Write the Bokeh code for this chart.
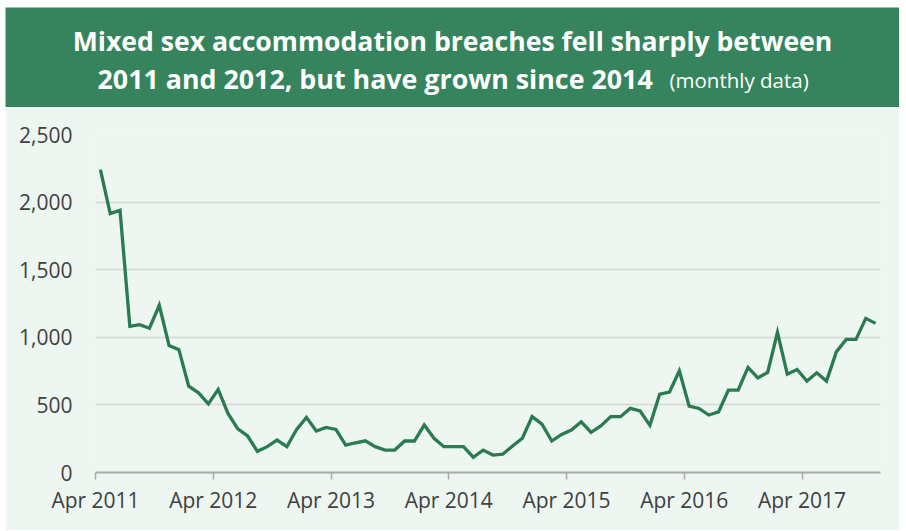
from bokeh.plotting import figure
from bokeh.models import Range1d, FixedTicker, NumeralTickFormatter, ColumnDataSource, Label
from bokeh.embed import file_html
from bokeh.resources import INLINE

# ---- data -------------------------------------------------------------
breaches = [
    2240, 1915, 1939, 1081, 1094, 1067, 1237, 939, 909, 638, 589, 508,   # Apr 2011 - Mar 2012
    614, 437, 322, 270, 157, 191, 240, 191, 319, 408, 307, 334,          # Apr 2012 - Mar 2013
    319, 203, 220, 234, 191, 166, 166, 233, 233, 351, 253, 191,          # Apr 2013 - Mar 2014
    191, 191, 113, 166, 129, 135, 196, 253, 413, 358, 233, 282,          # Apr 2014 - Mar 2015
    314, 375, 297, 344, 413, 413, 474, 455, 349, 580, 595, 752,          # Apr 2015 - Mar 2016
    491, 474, 425, 449, 610, 610, 777, 700, 740, 1037, 727, 762,         # Apr 2016 - Mar 2017
    676, 737, 676, 892, 984, 984, 1140, 1103,                            # Apr 2017 - Nov 2017
]
tick_months = [0, 12, 24, 36, 48, 60, 72]
tick_labels = ["Apr 2011", "Apr 2012", "Apr 2013", "Apr 2014", "Apr 2015", "Apr 2016", "Apr 2017"]
y_ticks = [0, 500, 1000, 1500, 2000, 2500]

title_line1 = "Mixed sex accommodation breaches fell sharply between"
title_line2 = "2011 and 2012, but have grown since 2014"
title_note = "(monthly data)"

# ---- styling ---------------------------------------------------------
BAND = "#35845D"
BG = "#EDF6F0"
LINE = "#2B7B52"
FONT = "Open Sans"
W = 894
LEFT, RIGHT = 90, 19
OX, OY = 5, 7

# ---- title band (separate root; frame covers the whole canvas) --------
TB_H = 100
t = figure(width=W, height=TB_H,
           x_range=Range1d(OX, OX + W),           # data x == page x
           y_range=Range1d(OY + TB_H, OY),        # data y == page y
           x_axis_location=None, y_axis_location=None,
           output_backend="svg", toolbar_location=None,
           min_border=0, min_border_left=0, min_border_right=0,
           min_border_top=0, min_border_bottom=0,
           margin=(OY, 0, 0, OX))
t.grid.visible = False
t.outline_line_color = None
t.background_fill_color = BAND
t.border_fill_color = BAND

t.add_layout(Label(x=452, y=40, text=title_line1, text_font=FONT, text_font_style="bold",
                   text_font_size="26.6px", text_color="white", text_align="center",
                   text_baseline="middle"))
t.add_layout(Label(x=97, y=78, text=title_line2, text_font=FONT, text_font_style="bold",
                   text_font_size="26.8px", text_color="white", text_align="left",
                   text_baseline="middle"))
t.add_layout(Label(x=669, y=79, text=title_note, text_font=FONT, text_font_style="normal",
                   text_font_size="20.5px", text_color="white", text_align="left",
                   text_baseline="middle"))

# ---- main chart ------------------------------------------------------
xs = [i + 0.5 for i in range(len(breaches))]
src = ColumnDataSource(dict(x=xs, y=breaches))

MAIN_H = 423
p = figure(width=W, height=MAIN_H, x_range=Range1d(0, len(breaches)), y_range=Range1d(0, 2500),
           output_backend="svg", toolbar_location=None,
           min_border_left=LEFT, min_border_right=RIGHT, min_border_top=27,
           min_border_bottom=MAIN_H - 27 - 338,
           margin=(0, 0, 0, OX))
p.background_fill_color = BG
p.border_fill_color = BG
p.outline_line_color = None

p.line("x", "y", source=src, line_color=LINE, line_width=3.3, line_join="miter")

p.xgrid.visible = False
p.ygrid.grid_line_color = "#D6D8D6"
p.ygrid.grid_line_width = 1.5

p.yaxis.ticker = FixedTicker(ticks=y_ticks)
p.yaxis.formatter = NumeralTickFormatter(format="0,0")
p.yaxis.axis_line_color = None
p.yaxis.major_tick_line_color = None
p.yaxis.major_tick_in = 0
p.yaxis.major_tick_out = 0
p.yaxis.minor_tick_line_color = None
p.yaxis.major_label_standoff = 23
p.yaxis.major_label_text_font = FONT
p.yaxis.major_label_text_font_size = "21px"
p.yaxis.major_label_text_color = "#404040"

p.xaxis.ticker = FixedTicker(ticks=tick_months)
p.xaxis.major_label_overrides = {m: lab for m, lab in zip(tick_months, tick_labels)}
p.xaxis.axis_line_color = "#AAAAAA"
p.xaxis.axis_line_width = 2
p.xaxis.major_tick_line_color = "#AAAAAA"
p.xaxis.major_tick_line_width = 1.5
p.xaxis.major_tick_in = 0
p.xaxis.major_tick_out = 7
p.xaxis.minor_tick_line_color = None
p.xaxis.major_label_standoff = 6
p.xaxis.major_label_text_font = FONT
p.xaxis.major_label_text_font_size = "21px"
p.xaxis.major_label_text_color = "#404040"

open("out.html", "w").write(file_html([t, p], INLINE))
